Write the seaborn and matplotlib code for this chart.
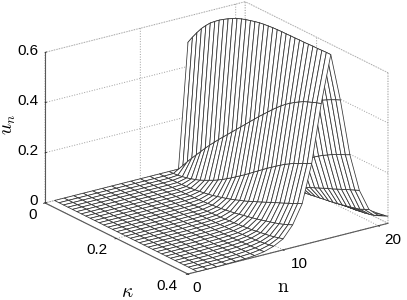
import matplotlib
matplotlib.use('Agg')
import matplotlib.pyplot as plt
import numpy as np
import seaborn as sns
from mpl_toolkits.mplot3d import proj3d

# kappa samples of the mesh and site numbers
kappa = [0.0, 0.0125, 0.025, 0.0375, 0.05, 0.0625, 0.075, 0.0875, 0.1, 0.1125, 0.125,
         0.1375, 0.15, 0.1625, 0.175, 0.1875, 0.2, 0.2125, 0.225, 0.2375, 0.25, 0.2625,
         0.275, 0.2875, 0.3, 0.3125, 0.325, 0.3375, 0.35, 0.3625, 0.375, 0.3875, 0.4]
sites = [1, 2, 3, 4, 5, 6, 7, 8, 9, 10, 11, 12, 13, 14, 15, 16, 17, 18, 19, 20, 21]

# u_n, one list per site, along kappa
u_01 = [0.0]*33
u_02 = [0.0]*33
u_03 = [0.0]*33
u_04 = [0,0,0,0,0,0,0,0,0,0,0,0,0,0,0,0,0,0,0,0,0,0,0,0,0,0,0,0,0,0,0,0,.001]
u_05 = [0,0,0,0,0,0,0,0,0,0,0,0,0,0,0,0,0,0,0,0,0,0,0,0,0,0,.001,.001,.001,.001,.001,.002,.002]
u_06 = [0,0,0,0,0,0,0,0,0,0,0,0,0,0,0,0,0,0,0,0,0,.001,.001,.001,.001,.001,.001,.002,.002,.002,.002,.003,.003]
u_07 = [0,0,0,0,0,0,0,0,0,0,0,0,0,0,0,0,0,.001,.001,.001,.001,.001,.001,.002,.002,.002,.003,.003,.004,.004,.005,.005,.006]
u_08 = [0,0,0,0,0,0,0,0,0,0,0,0,0,0,.001,.001,.001,.001,.001,.002,.002,.002,.003,.003,.004,.004,.005,.006,.007,.008,.009,.010,.012]
u_09 = [0,0,0,0,0,0,0,0,0,0,0,0,.001,.001,.001,.001,.002,.002,.003,.003,.004,.005,.005,.006,.007,.009,.010,.012,.013,.015,.018,.020,.024]
u_10 = [0,0,0,0,0,0,0,0,0,0,.001,.001,.001,.002,.002,.003,.004,.005,.006,.007,.009,.010,.012,.014,.016,.018,.021,.024,.027,.030,.034,.039,.044]
u_11 = [0,0,0,0,0,0,0,.001,.001,.002,.003,.004,.005,.007,.009,.011,.013,.016,.019,.022,.026,.030,.034,.038,.042,.047,.052,.057,.062,.068,.074,.082,.090]
u_12 = [0,0,0,.001,.001,.002,.003,.005,.007,.010,.013,.016,.020,.025,.030,.035,.041,.047,.054,.061,.068,.076,.084,.092,.100,.108,.116,.124,.132,.140,.148,.157,.165]
u_13 = [0,.001,.003,.006,.010,.015,.021,.028,.036,.045,.054,.064,.075,.087,.099,.112,.125,.138,.152,.166,.180,.194,.208,.221,.234,.247,.259,.270,.280,.289,.298,.307,.316]
u_14 = [0,.024,.048,.071,.093,.115,.137,.158,.178,.198,.217,.236,.255,.274,.293,.312,.331,.350,.369,.387,.405,.423,.440,.456,.471,.484,.496,.507,.517,.525,.532,.539,.545]
u_15 = [.496,.525,.552,.577,.598,.617,.632,.646,.658,.669,.679,.688,.695,.701,.706,.711,.715,.718,.720,.722,.723,.724,.724,.725,.725,.726,.726,.727,.728,.728,.729,.730,.730]
u_16 = [0,.023,.045,.068,.090,.111,.132,.151,.170,.189,.207,.226,.245,.263,.282,.301,.320,.338,.356,.374,.391,.408,.424,.440,.454,.468,.481,.493,.504,.514,.523,.532,.540]
u_17 = [0,.001,.003,.006,.010,.015,.021,.028,.036,.045,.054,.064,.075,.087,.099,.112,.125,.137,.151,.165,.179,.193,.206,.219,.232,.245,.256,.267,.277,.286,.295,.303,.312]
u_18 = [0,0,0,.001,.001,.002,.003,.005,.007,.010,.013,.016,.020,.024,.029,.034,.040,.046,.053,.059,.066,.074,.082,.090,.098,.106,.113,.121,.129,.137,.145,.153,.160]
u_19 = [0,0,0,0,0,0,0,.001,.001,.002,.002,.003,.004,.005,.007,.008,.010,.012,.014,.017,.020,.023,.026,.029,.032,.036,.040,.044,.048,.053,.058,.066,.075]
u_20 = [0,0,0,0,0,0,0,0,0,0,.001,.001,.001,.001,.002,.002,.003,.004,.005,.006,.007,.008,.009,.011,.012,.014,.016,.018,.021,.024,.028,.033,.040]
u_21 = [0,0,0,0,0,0,0,0,0,0,0,0,.001,.001,.001,.002,.002,.003,.003,.004,.005,.006,.007,.008,.009,.010,.012,.014,.016,.018,.021,.024,.028]

kappa_ticks = [0, 0.2, 0.4]
kappa_labels = ['0', '0.2', '0.4']
n_ticks = [0, 10, 20]
n_labels = ['0', '10', '20']
u_ticks = [0, 0.2, 0.4, 0.6]
u_labels = ['0', '0.2', '0.4', '0.6']

sns.set_theme(style='white', rc={'grid.linestyle': ':', 'grid.color': '0.62', 'grid.linewidth': 0.7,
                                 'axes.linewidth': 0.8, 'mathtext.fontset': 'cm'})
plt.rcParams['font.family'] = ['Liberation Sans', 'DejaVu Sans']

u = np.array([u_01, u_02, u_03, u_04, u_05, u_06, u_07, u_08, u_09, u_10, u_11,
              u_12, u_13, u_14, u_15, u_16, u_17, u_18, u_19, u_20, u_21])
K, N = np.meshgrid(kappa, sites)

fig = plt.figure(figsize=(4.07, 3.0), dpi=100)
ax = fig.add_subplot(projection='3d', proj_type='ortho')
ax.set_position([0.022, 0.027, 1, 1])
ax.view_init(elev=20.8, azim=-35.5)
ax.set_box_aspect((1, 1, 0.655), zoom=1.24)

surf = ax.plot_surface(K, N, u, rstride=1, cstride=1, color='white', shade=False,
                       edgecolor='#333333', linewidth=0.55, antialiased=True)
surf.set_clip_on(False)  # axes box is square, the surface runs past it

ax.set_xlim(0, 0.4)
ax.set_ylim(0, 21)
ax.set_zlim(0, 0.6)
ax.set_xticks(kappa_ticks, ['' for t in kappa_ticks])
ax.set_yticks(n_ticks, ['' for t in n_ticks])
ax.set_zticks(u_ticks, ['' for t in u_ticks])

for axis in (ax.xaxis, ax.yaxis, ax.zaxis):
    axis.pane.set_facecolor((1, 1, 1, 0))
    axis.pane.set_edgecolor('0.62')
    axis.pane.set_linestyle(':')
    axis.pane.set_linewidth(0.7)
    axis.line.set_color('0.35')
    axis.line.set_linewidth(0.8)
    axis._axinfo['tick']['inward_factor'] = 0.1
    axis._axinfo['tick']['outward_factor'] = 0.0
    axis._axinfo['tick']['linewidth'] = {True: 0.6, False: 0.6}
    axis._axinfo['tick']['color'] = '0.35'
ax.zaxis.set_ticks_position('lower')
ax.zaxis._axinfo['tick']['inward_factor'] = 0.0
ax.zaxis._axinfo['tick']['outward_factor'] = 0.1


def tick_label(x3, y3, z3, text, dx, dy, ha='center'):
    # tick labels sit at the offset seen in the picture from the projected tick
    px, py, _ = proj3d.proj_transform(x3, y3, z3, ax.get_proj())
    ax.annotate(text, xy=(px, py), xycoords='data', xytext=(dx, dy), textcoords='offset pixels',
                ha=ha, va='center', fontsize=11, color='black', annotation_clip=False)


fig.canvas.draw()
for t, s, dx in zip(kappa_ticks, kappa_labels, [-12, -19, -21]):
    tick_label(t, 0, 0, s, dx, -12)
for t, s, dx in zip(n_ticks, n_labels, [9, 16, 14]):
    tick_label(0.4, t, 0, s, dx, -14)
for t, s in zip(u_ticks, u_labels):
    tick_label(0, 0, t, s, -7, 1.5, ha='right')

fig.text(0.024, 0.585, r'$u_n$', rotation=90, fontsize=14, color='black', ha='center', va='center')
fig.text(0.312, 0.025, r'$\kappa$', fontsize=14, color='black', ha='center', va='center')
fig.text(0.695, 0.04, r'$\mathrm{n}$', fontsize=14, color='black', ha='center', va='center')

fig.savefig('out.png', dpi=100)
